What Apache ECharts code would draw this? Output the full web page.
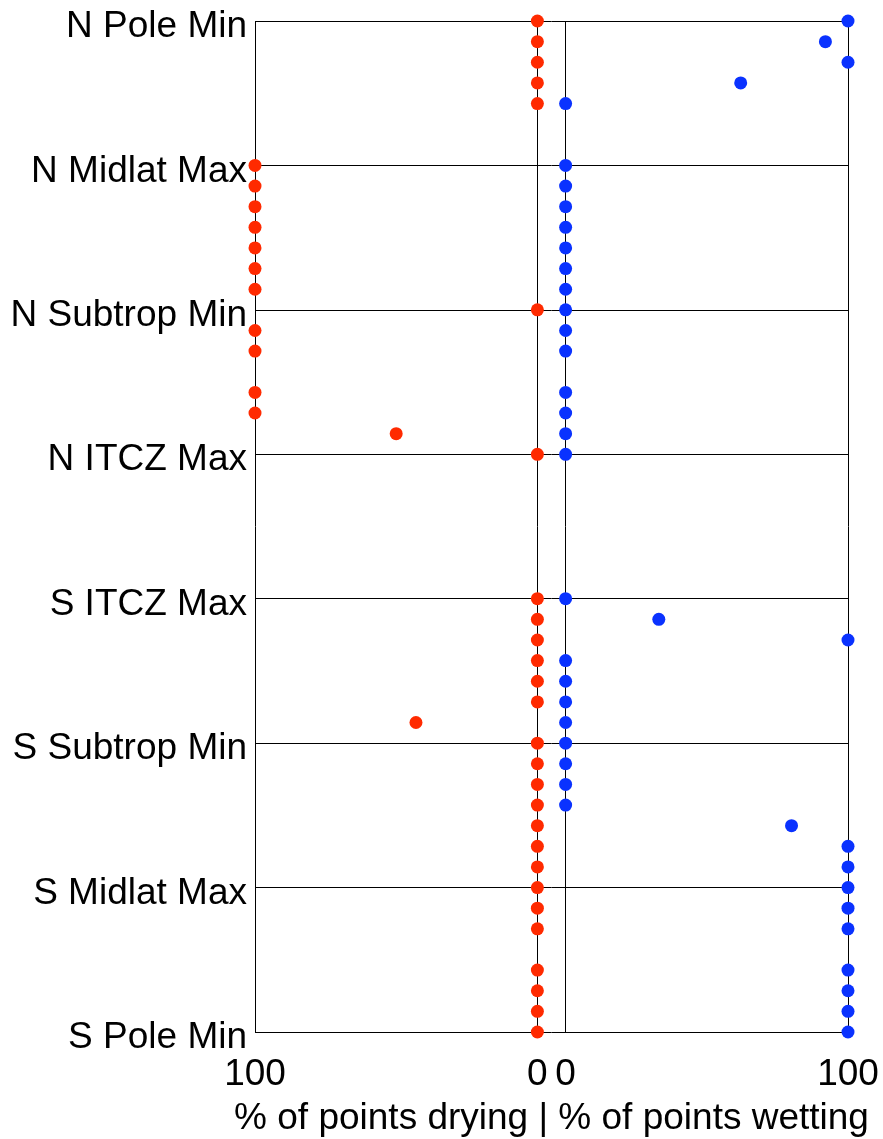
<!DOCTYPE html>
<html>
<head>
<meta charset="utf-8">
<script src="https://cdn.jsdelivr.net/npm/echarts@6/dist/echarts.min.js"></script>
<style>
  html, body { margin: 0; padding: 0; background: #fff; }
  #chart { width: 883px; height: 1139px; }
</style>
</head>
<body>
<div id="chart"></div>
<script>
// Region labels, placed every 7 rows (rows 0..49, top to bottom)
const regionLabels = ['N Pole Min', 'N Midlat Max', 'N Subtrop Min', 'N ITCZ Max',
                      'S ITCZ Max', 'S Subtrop Min', 'S Midlat Max', 'S Pole Min'];

// % of points drying per row (null = no point)
const drying = [
  0, 0, 0, 0, 0, null, null,
  100, 100, 100, 100, 100, 100, 100,
  0, 100, 100, null, 100, 100, 50,
  0, null, null, null, null, null, null,
  0, 0, 0, 0, 0, 0, 43,
  0, 0, 0, 0, 0, 0, 0,
  0, 0, 0, null, 0, 0, 0,
  0
];

// % of points wetting per row (null = no point)
const wetting = [
  100, 92, 100, 62, 0, null, null,
  0, 0, 0, 0, 0, 0, 0,
  0, 0, 0, null, 0, 0, 0,
  0, null, null, null, null, null, null,
  0, 33, 100, 0, 0, 0, 0,
  0, 0, 0, 0, 80, 100, 100,
  100, 100, 100, null, 100, 100, 100,
  100
];

const xTickLabels = { low: '0', high: '100' };
const axisTitle = '% of points drying | % of points wetting';

const FONT = "'Liberation Sans', Arial, Helvetica, sans-serif";
const FONT_SIZE = 37;

function toPoints(values) {
  const pts = [];
  values.forEach((v, i) => { if (v !== null) pts.push([v, i]); });
  return pts;
}

function tickFormatter(v) {
  if (v === 0) return xTickLabels.low;
  if (v === 100) return xTickLabels.high;
  return '';
}

const guideLines = {
  silent: true,
  symbol: 'none',
  z: 1,
  label: { show: false },
  lineStyle: { color: '#000', width: 1, type: 'solid' },
  emphasis: { disabled: true },
  data: [{ xAxis: 0 }, { xAxis: 100 }]
};

const chart = echarts.init(document.getElementById('chart'), null, { renderer: 'canvas' });

chart.setOption({
  animation: false,
  backgroundColor: '#fff',
  textStyle: { fontFamily: FONT },
  grid: {
    left: 255, right: 35, top: 21, bottom: 107,
    containLabel: false, outerBoundsMode: 'none'
  },
  xAxis: [
    {
      // drying: 100 at the left edge, 0 just left of centre
      type: 'value', inverse: true, min: -110, max: 100, interval: 10,
      position: 'bottom',
      axisLine: { show: false }, axisTick: { show: false }, splitLine: { show: false },
      axisLabel: { formatter: tickFormatter, fontSize: FONT_SIZE, color: '#000', margin: 24, fontFamily: FONT },
      name: axisTitle, nameLocation: 'middle', nameGap: 68,
      nameTextStyle: { fontSize: FONT_SIZE, color: '#000', fontFamily: FONT }
    },
    {
      // wetting: 0 just right of centre, 100 at the right edge
      type: 'value', min: -110, max: 100, interval: 10,
      position: 'bottom',
      axisLine: { show: false }, axisTick: { show: false }, splitLine: { show: false },
      axisLabel: { formatter: tickFormatter, fontSize: FONT_SIZE, color: '#000', margin: 24, fontFamily: FONT }
    }
  ],
  yAxis: {
    type: 'value', inverse: true, min: 0, max: 49, interval: 7,
    axisLine: { show: false }, axisTick: { show: false },
    splitLine: { show: true, lineStyle: { color: '#000', width: 1 } },
    axisLabel: {
      // region name sits slightly below its line
      formatter: v => '{r|' + (regionLabels[Math.round(v / 7)] || '') + '}',
      margin: 8,
      rich: {
        r: { fontSize: FONT_SIZE, color: '#000', fontFamily: FONT, padding: [12, 0, 0, 0] }
      }
    }
  },
  series: [
    {
      name: 'drying', type: 'scatter', xAxisIndex: 0,
      symbol: 'circle', symbolSize: 13,
      itemStyle: { color: '#ff2a00', opacity: 1 },
      data: toPoints(drying),
      markLine: guideLines
    },
    {
      name: 'wetting', type: 'scatter', xAxisIndex: 1,
      symbol: 'circle', symbolSize: 13,
      itemStyle: { color: '#0a32ff', opacity: 1 },
      data: toPoints(wetting),
      markLine: guideLines
    }
  ]
});
</script>
</body>
</html>
